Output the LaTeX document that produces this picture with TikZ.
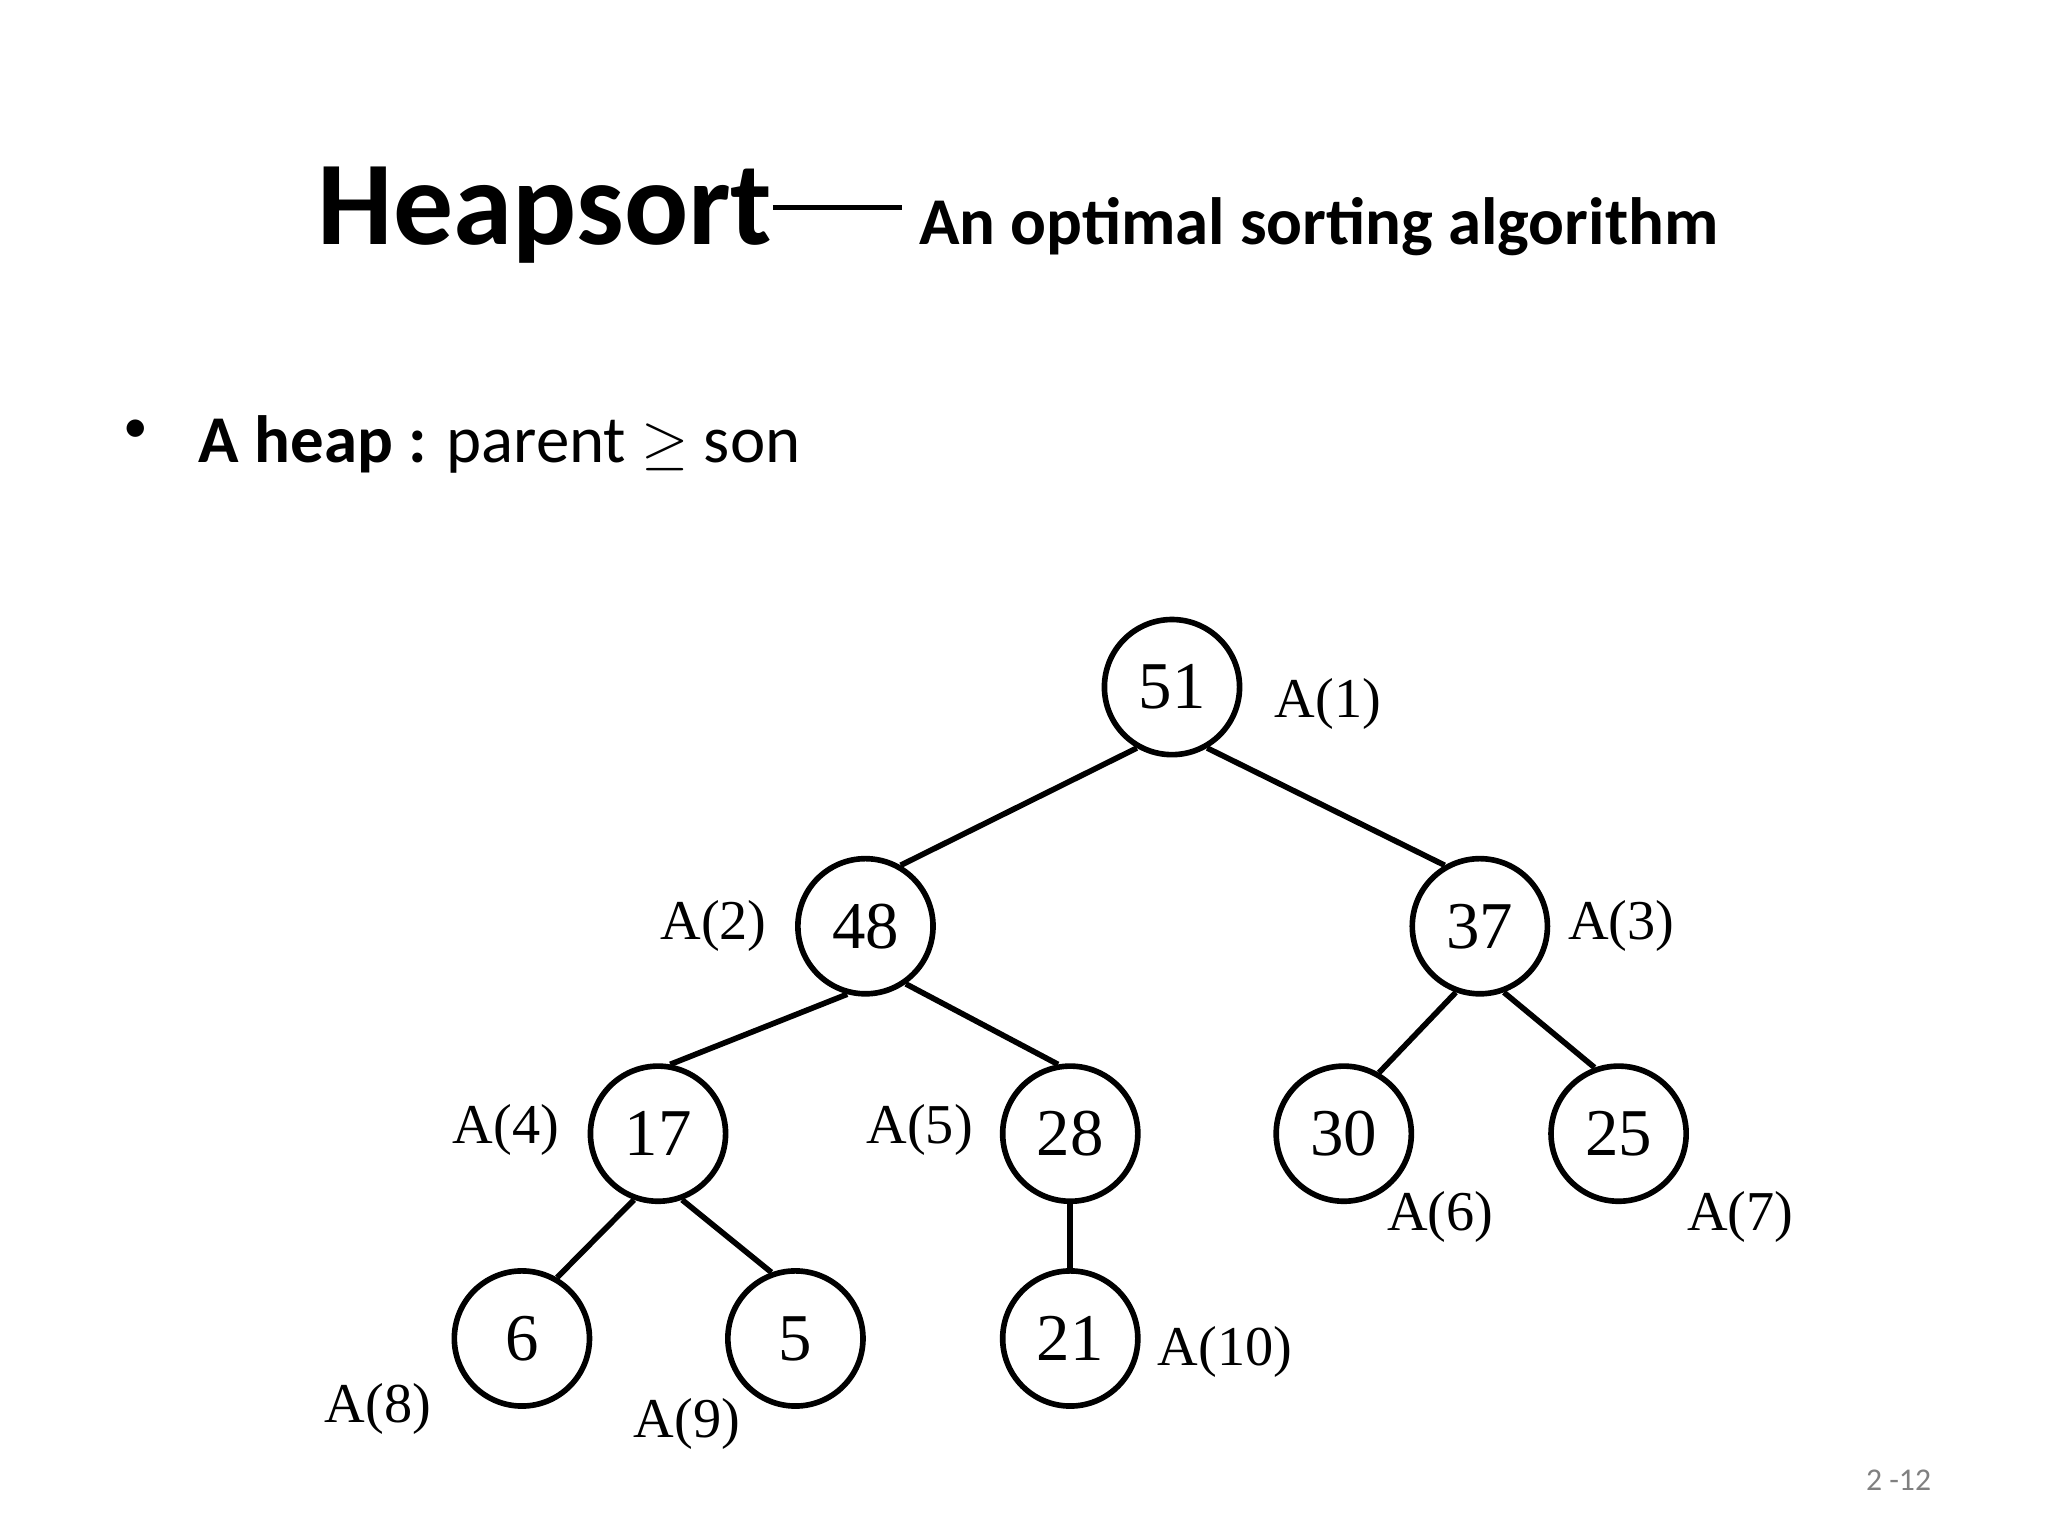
\documentclass[tikz,border=0pt]{standalone}
\usepackage{fontspec}
\setmainfont{Carlito}
\newfontfamily\treefont{Liberation Serif}
\begin{document}
\begin{tikzpicture}[x=0.0132cm,y=-0.0132cm,
  hn/.style={circle,draw,line width=1.6pt,minimum size=1.35cm,inner sep=0pt,font=\treefont\fontsize{19}{19}\selectfont},
  lb/.style={font=\treefont\fontsize{16}{16}\selectfont},
  ed/.style={line width=1.6pt}]
\useasboundingbox (0,0) rectangle (1550,1162);
\node[anchor=base west,inner sep=0pt] (title) at (240,185) {\bfseries\fontsize{34}{34}\selectfont Heapsort};
\node[anchor=base west,inner sep=0pt] (sub) at (695,185) {\bfseries\fontsize{19}{19}\selectfont An optimal sorting algorithm};
\draw[line width=1.2pt] (title.base east) ++(0,-28) -- ++(98,0);
\node[anchor=base west,inner sep=0pt] (bul) at (93,335) {\fontsize{14}{14}\selectfont •};
\node[anchor=base west,inner sep=0pt] (heap) at (150,350) {\fontsize{19}{19}\selectfont\textbf{A heap :} parent $\geq$ son};
\node[anchor=base east,inner sep=0pt,text=gray] (pg) at (1462,1128) {\fontsize{9}{9}\selectfont 2 -12};
\begin{scope}[shift={(-10,-7)}]
\node[hn] (n1) at (897,527) {51};
\node[hn] (n2) at (665,708) {48};
\node[hn] (n3) at (1130,708) {37};
\node[hn] (n4) at (508,865) {17};
\node[hn] (n5) at (820,865) {28};
\node[hn] (n6) at (1027,865) {30};
\node[hn] (n7) at (1235,865) {25};
\node[hn] (n8) at (405,1020) {6};
\node[hn] (n9) at (612,1020) {5};
\node[hn] (n10) at (820,1020) {21};
\draw[ed] (n1.240)--(n2.60); \draw[ed] (n1.300)--(n3.120);
\draw[ed] (n2.255)--(n4.80); \draw[ed] (n2.305)--(n5.100);
\draw[ed] (n3.250)--(n6.60); \draw[ed] (n3.290)--(n7.110);
\draw[ed] (n4.250)--(n8.60); \draw[ed] (n4.290)--(n9.110);
\draw[ed] (n5)--(n10);
\node[lb] (l1) at (1015,540) {A(1)};
\node[lb] (l2) at (550,708) {A(2)};
\node[lb] (l3) at (1237,708) {A(3)};
\node[lb] (l4) at (393,862) {A(4)};
\node[lb] (l5) at (706,862) {A(5)};
\node[lb] (l6) at (1100,928) {A(6)};
\node[lb] (l7) at (1327,928) {A(7)};
\node[lb] (l8) at (296,1073) {A(8)};
\node[lb] (l9) at (530,1085) {A(9)};
\node[lb] (l10) at (937,1030) {A(10)};
\end{scope}
\end{tikzpicture}
\end{document}
